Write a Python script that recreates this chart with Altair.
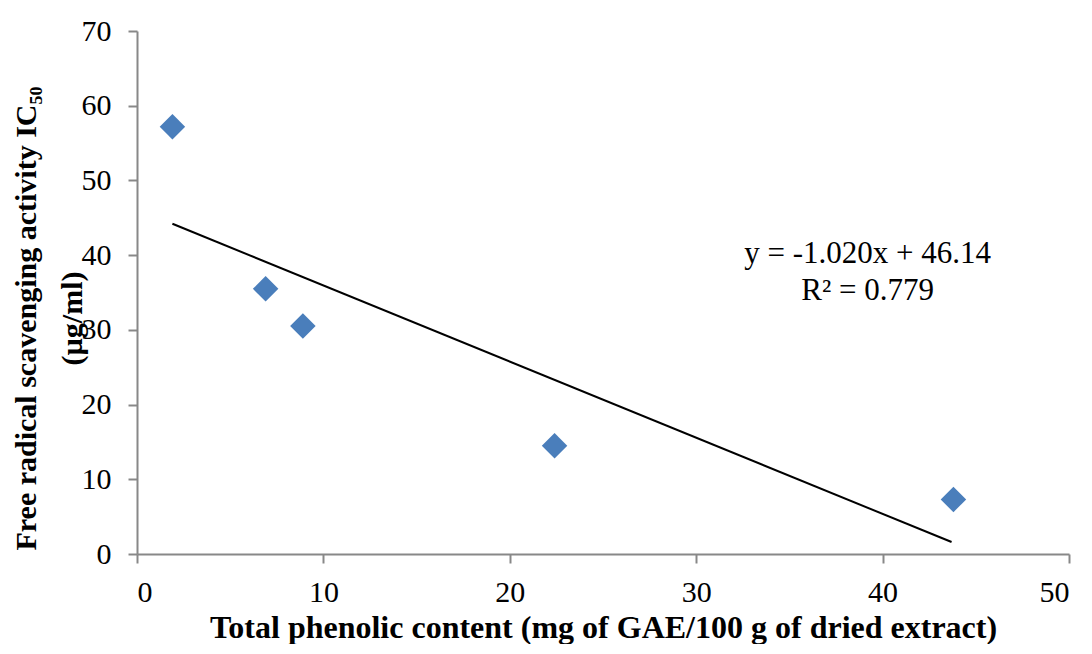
import altair as alt
import pandas as pd

# Data
phenolic = [1.9, 6.9, 8.9, 22.4, 43.8]
ic50 = [57.2, 35.5, 30.5, 14.5, 7.3]

trend_x = [1.9, 43.7]
trend_y = [44.2, 1.6]

eq_text = ["y = -1.020x + 46.14\nR\u00b2 = 0.779"]
eq_x = [39.2]
eq_y = [38.9]

x_ticks = [0, 10, 20, 30, 40, 50]
y_ticks = [0, 10, 20, 30, 40, 50, 60, 70]

pts = pd.DataFrame({"x": phenolic, "y": ic50})
trend = pd.DataFrame({"x": trend_x, "y": trend_y})
eq = pd.DataFrame({"x": eq_x, "y": eq_y, "t": eq_text})

FONT = "Liberation Serif"
AXIS_GREY = "#888888"

xscale = alt.Scale(domain=[0, 50], nice=False)
yscale = alt.Scale(domain=[0, 70], nice=False)

xaxis = alt.Axis(
    values=x_ticks,
    title="Total phenolic content (mg of GAE/100 g of dried extract)",
    grid=False,
    domainColor=AXIS_GREY,
    domainWidth=2,
    tickColor=AXIS_GREY,
    tickWidth=2,
    tickSize=9,
    labelFont=FONT,
    labelFontSize=30,
    labelColor="#000000",
    labelPadding=14,
    titleFont=FONT,
    titleFontSize=32,
    titleFontWeight="bold",
    titleColor="#000000",
    titleBaseline="alphabetic",
    titleY=83,
)

yaxis = alt.Axis(
    values=y_ticks,
    title=["Free radical scavenging activity IC\u2085\u2080", "(\u00b5g/ml)"],
    grid=False,
    domainColor=AXIS_GREY,
    domainWidth=2,
    tickColor=AXIS_GREY,
    tickWidth=2,
    tickSize=9,
    labelFont=FONT,
    labelFontSize=30,
    labelColor="#000000",
    labelPadding=17,
    titleFont=FONT,
    titleFontSize=30,
    titleFontWeight="bold",
    titleColor="#000000",
    titleAngle=270,
    titleAlign="center",
    titleBaseline="top",
    titleLineHeight=46,
    titleX=-126,
    titleY=287,
)

points = alt.Chart(pts).mark_point(
    shape="diamond", filled=True, size=650, color="#4A7EBB", opacity=1
).encode(
    x=alt.X("x:Q", scale=xscale, axis=xaxis),
    y=alt.Y("y:Q", scale=yscale, axis=yaxis),
)

line = alt.Chart(trend).mark_line(color="#000000", strokeWidth=2).encode(
    x=alt.X("x:Q", scale=xscale),
    y=alt.Y("y:Q", scale=yscale),
)

label = alt.Chart(eq).mark_text(
    font=FONT, fontSize=31, color="#000000", align="center",
    baseline="alphabetic", lineBreak="\n", lineHeight=37,
).encode(
    x=alt.X("x:Q", scale=xscale),
    y=alt.Y("y:Q", scale=yscale),
    text="t:N",
)

chart = alt.layer(line, points, label).properties(
    width=932,
    height=523,
    autosize=alt.AutoSizeParams(type="none"),
    padding={"left": 129, "top": 23, "right": 15, "bottom": 90},
).configure_view(stroke=None)

chart.save("out.html", embed_options={"renderer": "svg", "actions": False})
